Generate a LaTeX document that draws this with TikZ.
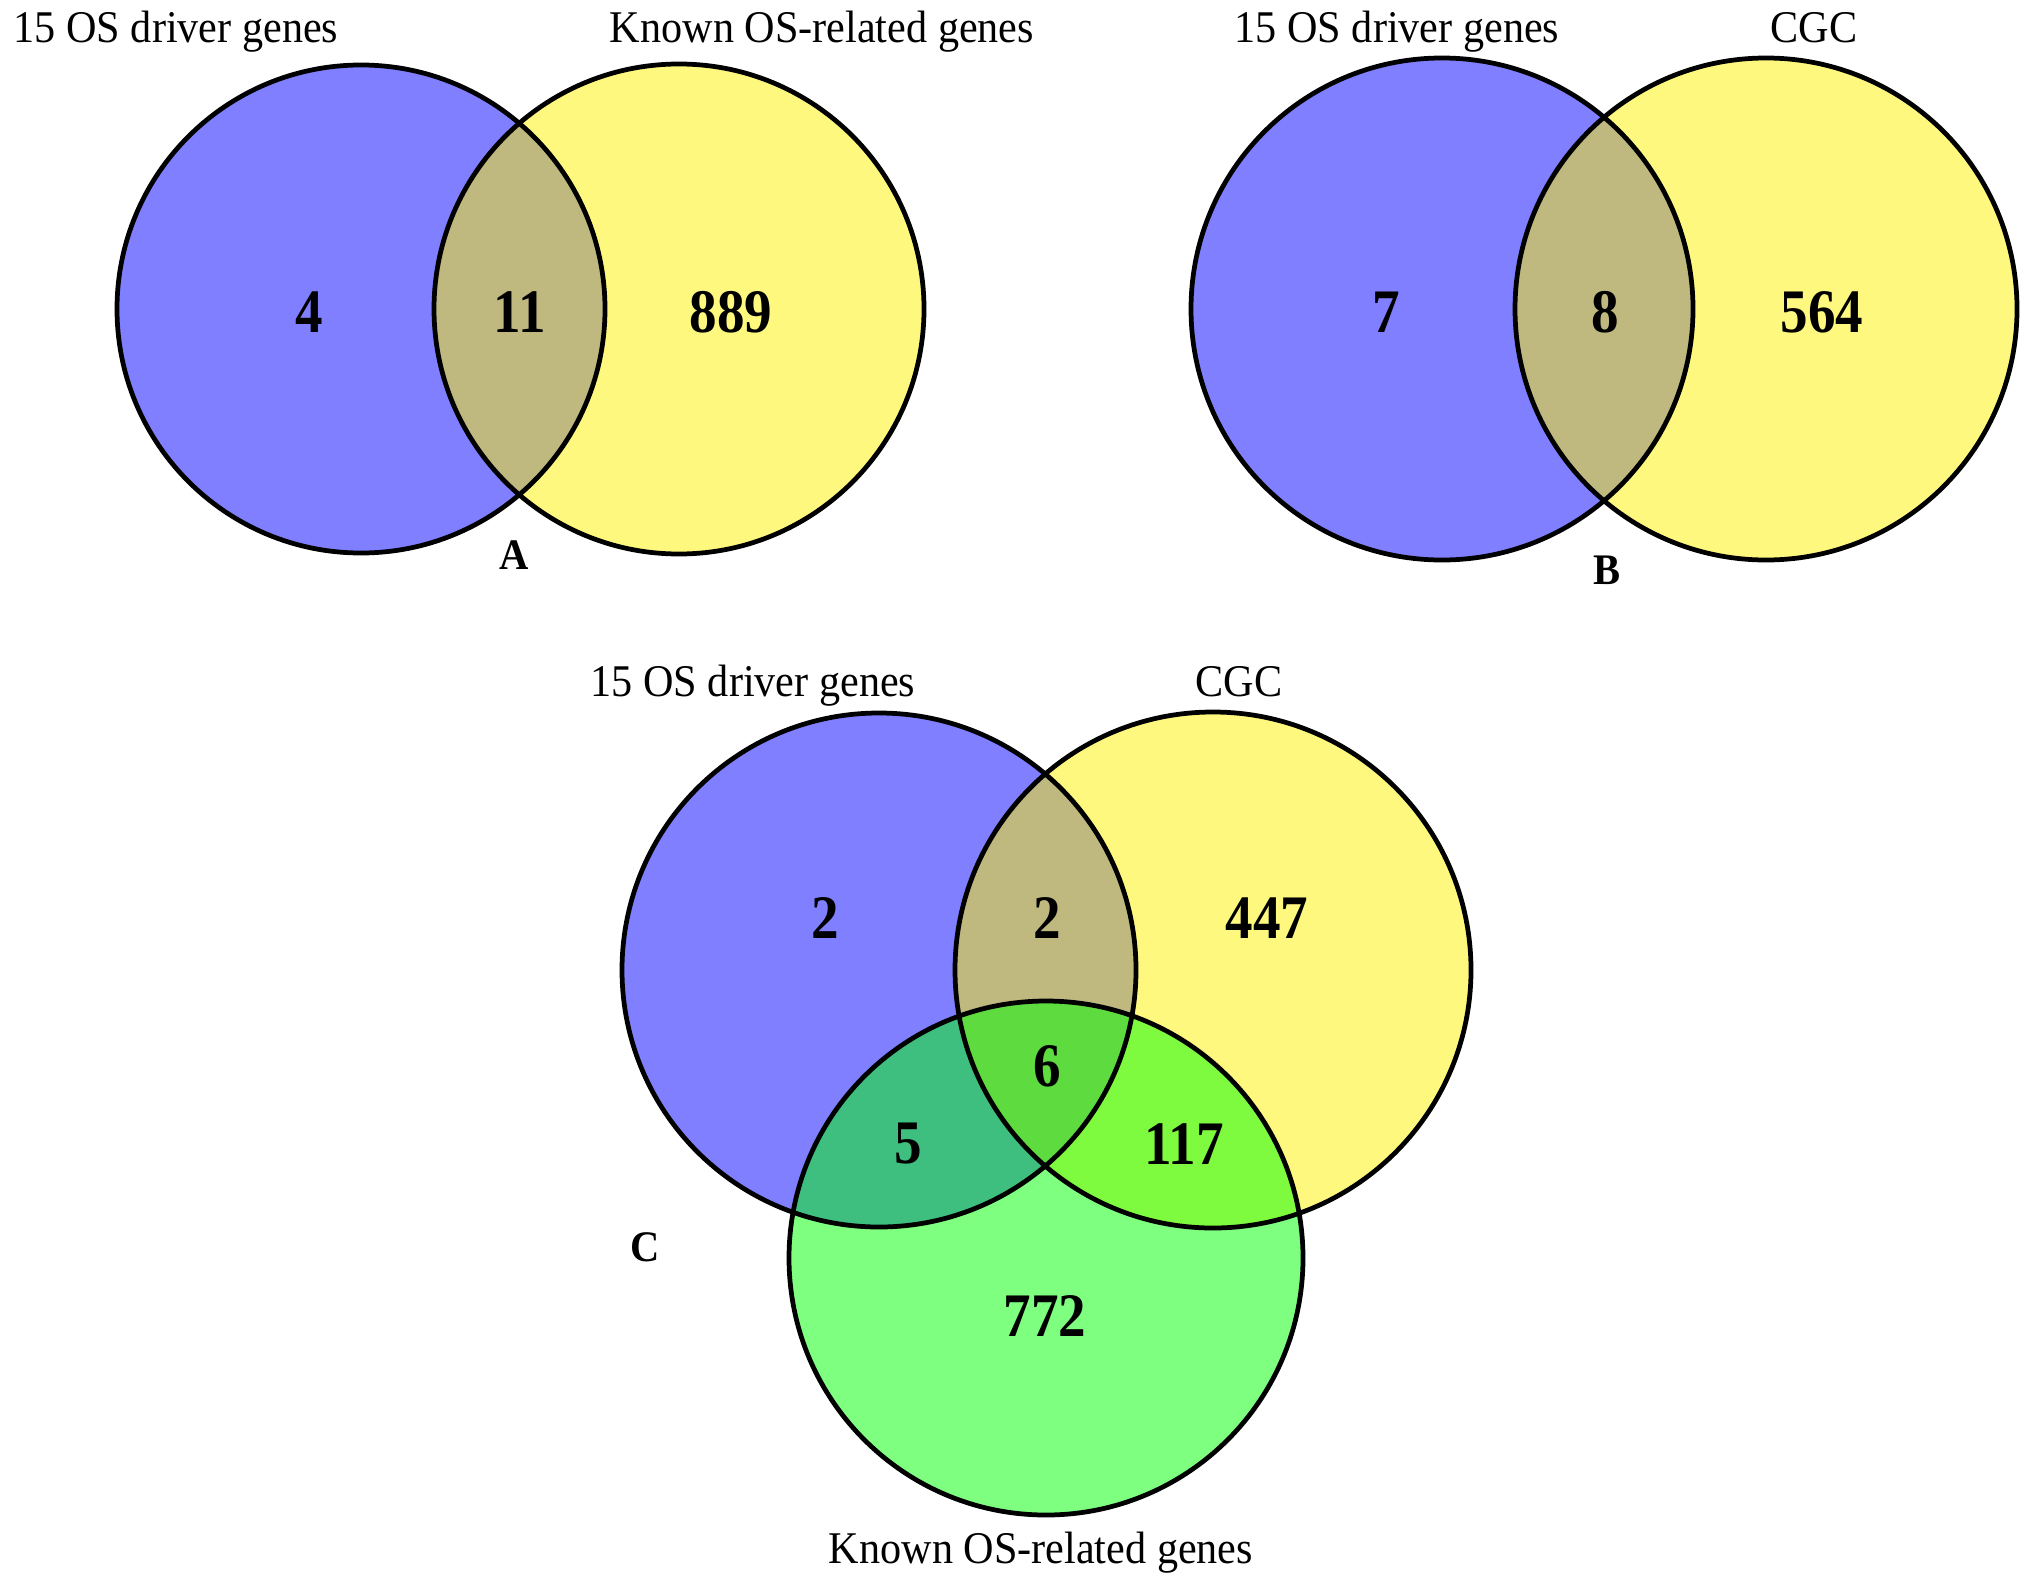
\documentclass[tikz,border=0pt]{standalone}
\usepackage{fontspec}
\setmainfont{Liberation Serif}
\newfontfamily\labelfont[FakeStretch=0.93]{Liberation Serif}
\newfontfamily\numfont[FakeStretch=0.89]{Liberation Serif}
\usetikzlibrary{positioning}

\begin{document}
\begin{tikzpicture}[x=0.01cm, y=-0.01cm,
  drv/.style = {fill = blue, fill opacity = 0.5},
  cgc/.style = {fill = yellow, fill opacity = 0.5},
  kno/.style = {fill = green, fill opacity = 0.5},
  rim/.style = {draw = black, line width = 1.35pt},
  num/.style = {font = \numfont\fontsize{17.6}{20}\selectfont\bfseries, inner sep = 0pt},
  setname/.style = {font = \labelfont\fontsize{12.9}{15}\selectfont, anchor = base, inner sep = 0pt},
  panel/.style = {font = \labelfont\fontsize{12.4}{15}\selectfont\bfseries, anchor = base, inner sep = 0pt}]
\useasboundingbox (0,0) rectangle (2031,1591);

% A
\coordinate (a1) at (361,309);
\coordinate (a2) at (679,309);
\fill[drv] (a1) circle[radius=244];
\fill[cgc] (a2) circle[radius=245];
% B
\coordinate (b1) at (1442,309);
\coordinate (b2) at (1766,309);
\fill[drv] (b1) circle[radius=251];
\fill[cgc] (b2) circle[radius=251];
% C
\coordinate (c1) at (879,970);
\coordinate (c2) at (1213,970);
\coordinate (c3) at (1046,1258);
\fill[drv] (c1) circle[radius=257];
\fill[cgc] (c2) circle[radius=258];
\fill[kno] (c3) circle[radius=257];

\foreach \c/\r in {a1/244, a2/245, b1/251, b2/251, c1/257, c2/258, c3/257}
  \draw[rim] (\c) circle[radius=\r];

\node[setname] (a1-name) at (176,43) {15 OS driver genes};
\node[setname] (a2-name) at (822,43) {Known OS-related genes};
\node[panel] (a-tag) at (514,569) {A};
\node[num] (a-only) at (309,312) {4};
\node[num] (a-both) at (520,312) {11};
\node[num] (a-known) at (731,312) {889};

\node[setname] (b1-name) at (1397,43) {15 OS driver genes};
\node[setname] (b2-name) at (1814,43) {CGC};
\node[panel] (b-tag) at (1607,584) {B};
\node[num] (b-only) at (1386,312) {7};
\node[num] (b-both) at (1605,312) {8};
\node[num] (b-cgc) at (1822,312) {564};

\node[setname] (c1-name) at (753,696) {15 OS driver genes};
\node[setname] (c2-name) at (1239,696) {CGC};
\node[setname] (c3-name) at (1041,1563) {Known OS-related genes};
\node[panel] (c-tag) at (645,1261) {C};
\node[num] (c-drv) at (825,918) {2};
\node[num] (c-drvcgc) at (1047,918) {2};
\node[num] (c-cgc) at (1267,918) {447};
\node[num] (c-all) at (1047,1066) {6};
\node[num] (c-drvkno) at (908,1144) {5};
\node[num] (c-cgckno) at (1184,1144) {117};
\node[num] (c-kno) at (1045,1316) {772};
\end{tikzpicture}
\end{document}
